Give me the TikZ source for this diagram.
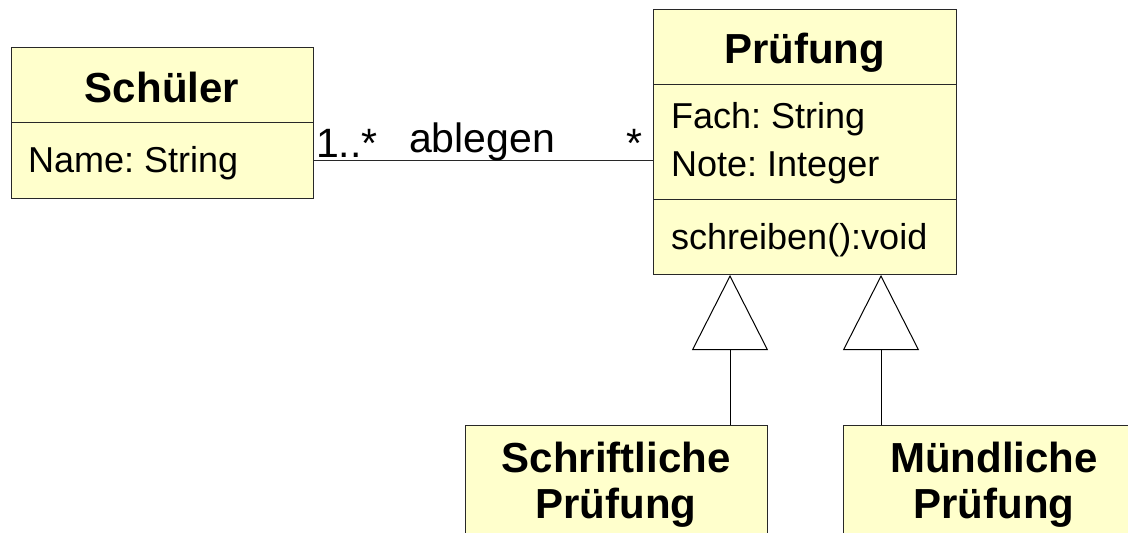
\documentclass[tikz,border=0pt]{standalone}
\usepackage{fontspec}
\setmainfont{Liberation Sans}
\usetikzlibrary{arrows.meta}
\frenchspacing
\definecolor{classfill}{RGB}{255,255,204}
\definecolor{edge}{RGB}{40,40,40}
\tikzset{
  classbox/.style={draw=edge, fill=classfill, line width=1pt, rectangle, inner sep=0pt, anchor=north west},
  divider/.style={draw=edge, line width=1pt},
  title/.style={inner sep=0pt, anchor=base, font=\fontsize{42}{46}\selectfont\bfseries},
  member/.style={inner sep=0pt, anchor=base west, font=\fontsize{36}{40}\selectfont},
  assoclabel/.style={inner sep=0pt, anchor=base, font=\fontsize{41}{45}\selectfont},
  assoc/.style={draw=edge, line width=1pt},
  generalization/.style={draw=black, line width=1pt, -{Triangle[open, length=75pt, width=76pt]}}
}
\begin{document}
\begin{tikzpicture}[x=1pt, y=-1pt]
\useasboundingbox (0,0) rectangle (1128,533);
\clip (0,0) rectangle (1128,533);

% class boxes
\node[classbox, minimum width=302pt, minimum height=151pt] (schueler) at (11,47) {};
\node[classbox, minimum width=303pt, minimum height=265pt] (pruefung) at (653,9) {};
\node[classbox, minimum width=302pt, minimum height=140pt] (schrift) at (465,425) {};
\node[classbox, minimum width=302pt, minimum height=140pt] (muendl) at (843,425) {};

% compartment dividers
\coordinate (d1) at (0,122);
\coordinate (d2) at (0,84);
\coordinate (d3) at (0,199);
\draw[divider] (schueler.west |- d1) -- (schueler.east |- d1);
\draw[divider] (pruefung.west |- d2) -- (pruefung.east |- d2);
\draw[divider] (pruefung.west |- d3) -- (pruefung.east |- d3);

% class texts
\node[title] (tSchueler) at (162,102) {Schüler};
\node[member] (mName) at (28,172) {Name: String};

\node[title] (tPruefung) at (804.5,63) {Prüfung};
\node[member] (mFach) at (671,128) {Fach: String};
\node[member] (mNote) at (671,176) {Note: Integer};
\node[member] (mSchreiben) at (671,249) {schreiben():void};

\node[title] (tSchrift1) at (616,472) {Schriftliche};
\node[title] (tSchrift2) at (616,518) {Prüfung};
\node[title] (tMuend1) at (994,472) {Mündliche};
\node[title] (tMuend2) at (994,518) {Prüfung};

% association
\coordinate (a) at (0,160);
\draw[assoc] (schueler.east |- a) -- (pruefung.west |- a);
\node[assoclabel, anchor=base west] (mult1) at (316,157) {1..*};
\node[assoclabel] (assocName) at (482,152) {ablegen};
\node[assoclabel, anchor=base east] (mult2) at (643,157) {*};

% generalizations
\coordinate (g1) at (730,0);
\coordinate (g2) at (881,0);
\draw[generalization] (schrift.north -| g1) -- (pruefung.south -| g1);
\draw[generalization] (muendl.north -| g2) -- (pruefung.south -| g2);
\end{tikzpicture}
\end{document}
